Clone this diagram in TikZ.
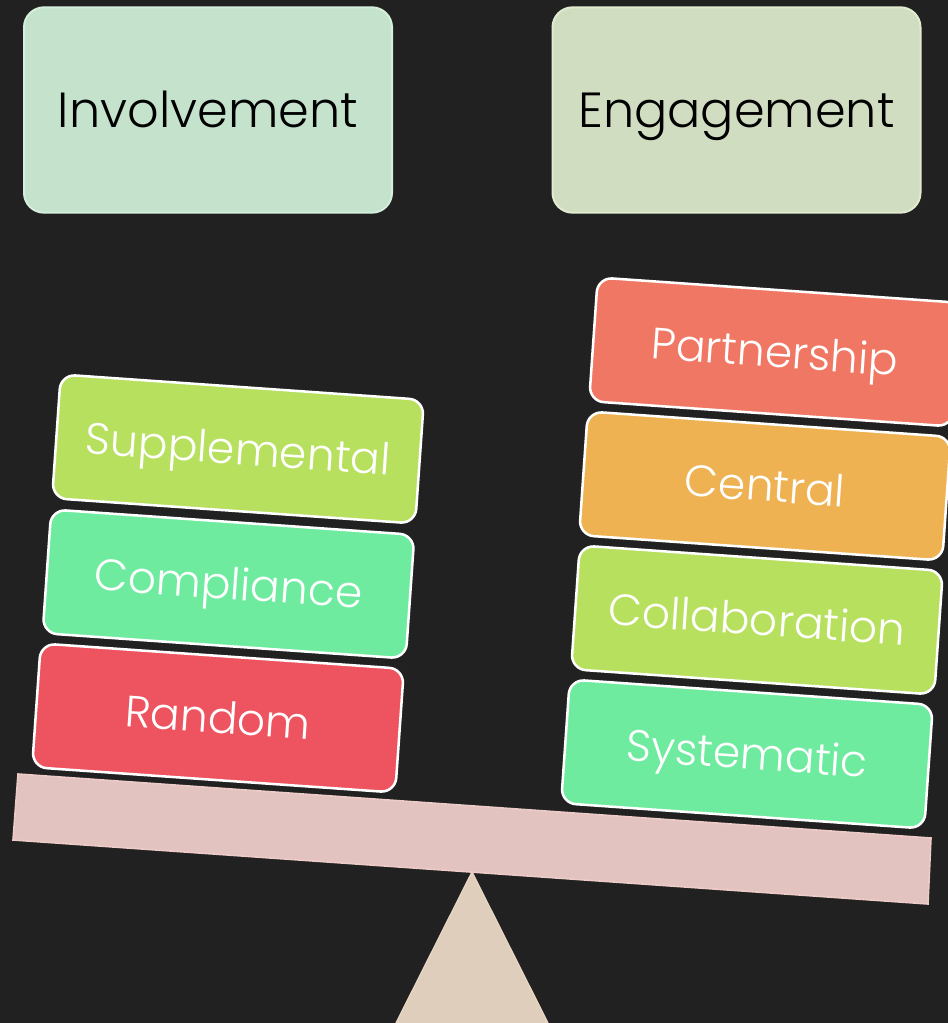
\documentclass[tikz,border=0pt]{standalone}
\usepackage{fontspec}
\setmainfont{Poppins Light}
\definecolor{bg}{HTML}{212121}
\definecolor{invfill}{HTML}{C4E2CC}
\definecolor{invline}{HTML}{D4F0DC}
\definecolor{engfill}{HTML}{D1DDC1}
\definecolor{engline}{HTML}{E0EBCF}
\definecolor{cgreen}{HTML}{B6E05E}
\definecolor{cmint}{HTML}{6FEBA0}
\definecolor{cred}{HTML}{EE5360}
\definecolor{csalmon}{HTML}{F07763}
\definecolor{corange}{HTML}{EEB252}
\definecolor{beamfill}{HTML}{E2C3C0}
\definecolor{beamline}{HTML}{EDCBC6}
\definecolor{trifill}{HTML}{DFCEBC}
\definecolor{triline}{HTML}{E8D6C3}
\tikzset{
  titlebox/.style={draw, line width=1.5pt, rounded corners=15pt,
    minimum width=276pt, minimum height=154pt, inner sep=0pt,
    text height=26pt, text depth=0pt,
    font=\fontsize{37}{44}\selectfont, text=black},
  block/.style={draw=white, line width=1.9pt, rounded corners=11pt,
    minimum width=273pt, minimum height=93pt, inner sep=0pt,
    text height=23pt, text depth=0pt,
    rotate=-4, font=\fontsize{33}{40}\selectfont, text=white},
}
\begin{document}
\begin{tikzpicture}[x=0.75pt,y=-0.75pt]
\useasboundingbox (0,0) rectangle (948,1023);
\fill[bg] (0,0) rectangle (948,1023);
% title boxes
\node[titlebox, fill=invfill, draw=invline] (inv) at (208,110) {Involvement};
\node[titlebox, fill=engfill, draw=engline] (eng) at (736.5,110) {Engagement};
% fulcrum
\fill[trifill] (472,872) -- (548,1023) -- (396,1023) -- cycle;
\draw[triline, line width=1pt] (396,1023) -- (472,872) -- (548,1023);
% beam
\draw[fill=beamfill, draw=beamline, line width=1.2pt]
  (18,774) -- (931,838) -- (928,904) -- (13,840) -- cycle;
% left stack
\node[block, fill=cgreen] (sup) at (238,449) {Supplemental};
\node[block, fill=cmint] (com) at (228.5,584) {Compliance};
\node[block, fill=cred] (ran) at (218,718) {Random};
% right stack
\node[block, fill=csalmon] (par) at (775,352) {Partnership};
\node[block, fill=corange] (cen) at (765,486) {Central};
\node[block, fill=cgreen] (col) at (757,620) {Collaboration};
\node[block, fill=cmint] (sys) at (747,754) {Systematic};
\end{tikzpicture}
\end{document}
